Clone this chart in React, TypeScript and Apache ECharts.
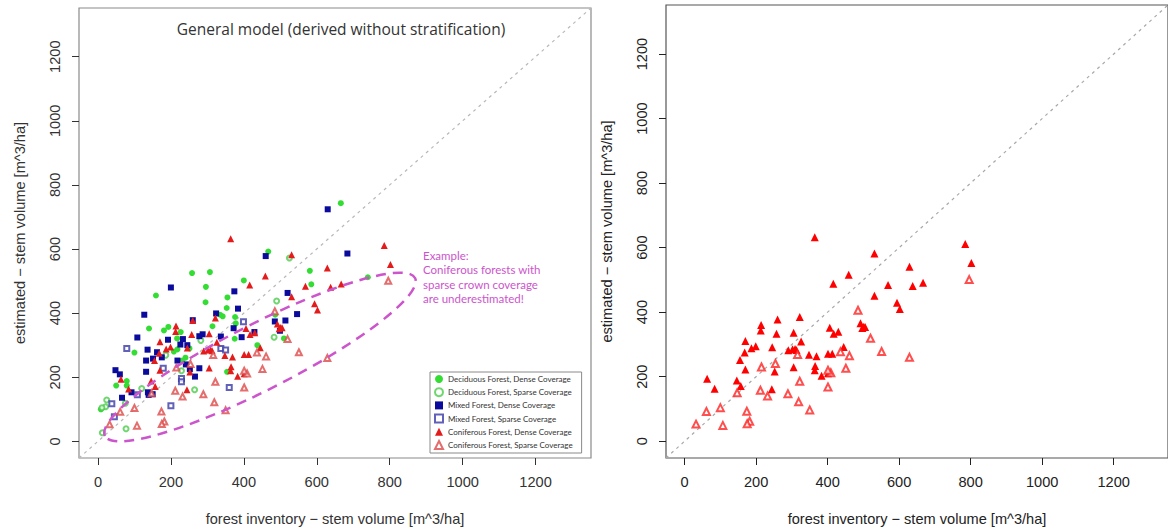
import React, { useEffect, useRef } from "react";
import * as echarts from "echarts";

// ---------- data ----------
const TICKS = [0, 200, 400, 600, 800, 1000, 1200];
const AXIS_MIN = -52;
const AXIS_MAX = 1352;
const DIAGONAL = [[AXIS_MIN, AXIS_MIN], [AXIS_MAX, AXIS_MAX]];

const X_TITLE = "forest inventory \u2212 stem volume [m^3/ha]";
const Y_TITLE = "estimated \u2212 stem volume [m^3/ha]";
const PLOT_TITLE = "General model (derived without stratification)";
const NOTE_LINES = ["Example:", "Coniferous forests with", "sparse crown coverage", "are underestimated!"];

const SERIES_NAMES = [
  "Deciduous Forest, Dense Coverage",
  "Deciduous Forest, Sparse Coverage",
  "Mixed Forest, Dense Coverage",
  "Mixed Forest, Sparse Coverage",
  "Coniferous Forest, Dense Coverage",
  "Coniferous Forest, Sparse Coverage",
];

const deciduousDense = [
  [666, 743], [467, 592], [581, 532], [585, 490], [740, 512], [400, 502], [258, 525], [307, 528],
  [159, 455], [296, 482], [295, 434], [355, 449], [353, 416], [376, 388], [335, 395], [342, 390],
  [486, 395], [510, 321], [437, 300], [354, 217], [375, 320], [314, 359], [140, 352], [181, 346],
  [193, 357], [227, 341], [217, 321], [100, 277], [208, 280], [218, 287], [251, 290], [231, 252],
  [240, 261], [50, 174], [79, 188], [79, 174], [8, 100], [378, 368],
];
const deciduousSparse = [
  [525, 572], [490, 438], [483, 325], [282, 315], [186, 269], [229, 220], [265, 161], [120, 165],
  [75, 119], [24, 129], [21, 108], [11, 105], [12, 27], [77, 39],
];
const mixedDense = [
  [630, 724], [684, 586], [460, 578], [200, 480], [374, 468], [520, 463], [127, 395], [260, 378],
  [324, 399], [546, 397], [514, 377], [485, 374], [372, 353], [108, 324], [192, 317], [278, 328],
  [394, 325], [429, 341], [136, 286], [162, 278], [151, 258], [132, 252], [132, 217], [226, 302],
  [245, 300], [241, 240], [252, 225], [278, 228], [266, 202], [48, 222], [60, 209], [66, 136],
  [92, 153], [137, 153], [139, 145], [150, 147], [384, 414], [499, 345], [233, 319], [287, 334],
  [337, 327], [218, 252], [175, 262],
];
const mixedSparse = [
  [79, 290], [337, 290], [350, 285], [399, 373], [360, 168], [179, 228], [108, 145], [200, 111],
  [38, 117], [45, 77], [229, 196], [229, 186],
];
const coniferousDense = [
  [364, 632], [531, 582], [459, 516], [416, 488], [629, 541], [569, 484], [638, 481], [667, 491],
  [531, 451], [594, 429], [602, 410], [785, 611], [802, 552], [214, 360], [213, 343], [260, 377],
  [322, 385], [257, 333], [305, 336], [326, 309], [406, 352], [417, 333], [430, 339], [492, 366],
  [497, 351], [501, 355], [505, 354], [170, 311], [168, 275], [187, 288], [199, 294], [245, 291],
  [155, 252], [170, 222], [146, 188], [157, 171], [63, 194], [84, 163], [252, 216], [244, 161],
  [305, 229], [290, 282], [302, 285], [309, 286], [313, 283], [348, 268], [369, 263], [401, 271],
  [413, 271], [445, 292], [365, 233], [364, 220], [383, 203], [401, 211],
];
const coniferousSparse = [
  [485, 406], [520, 319], [551, 278], [629, 260], [436, 277], [461, 265], [451, 226], [401, 168],
  [409, 212], [401, 220], [316, 269], [254, 241], [215, 230], [322, 186], [319, 122], [350, 97],
  [289, 147], [232, 140], [212, 158], [147, 150], [174, 93], [182, 62], [175, 54], [100, 104],
  [61, 92], [107, 49], [32, 53], [796, 501],
];

// ---------- styles ----------
const AXIS_FONT = "'Liberation Sans', Arial, Helvetica, sans-serif";
const NOTE_COLOR = "#cc55cc";

function xAxis(gridIndex: number, color: string) {
  return {
    type: "value",
    gridIndex,
    min: AXIS_MIN,
    max: AXIS_MAX,
    axisLine: { show: false, onZero: false },
    axisTick: { show: true, customValues: TICKS, length: 7, lineStyle: { color, width: 1 } },
    axisLabel: {
      customValues: TICKS,
      margin: 16,
      fontSize: 14.6,
      color,
      fontFamily: AXIS_FONT,
      formatter: (v: number) => String(v),
    },
    splitLine: { show: false },
    name: X_TITLE,
    nameLocation: "middle",
    nameGap: 53,
    nameTextStyle: { fontSize: 14.6, color, fontFamily: AXIS_FONT },
  };
}
function yAxis(gridIndex: number, color: string) {
  return {
    type: "value",
    gridIndex,
    min: AXIS_MIN,
    max: AXIS_MAX,
    axisLine: { show: false, onZero: false },
    axisTick: { show: true, customValues: TICKS, length: 7, lineStyle: { color, width: 1 } },
    axisLabel: {
      customValues: TICKS,
      margin: 17,
      rotate: 90,
      fontSize: 14.6,
      color,
      fontFamily: AXIS_FONT,
      formatter: (v: number) => String(v),
    },
    splitLine: { show: false },
    name: Y_TITLE,
    nameLocation: "middle",
    nameGap: 52,
    nameTextStyle: { fontSize: 14.6, color, fontFamily: AXIS_FONT },
  };
}

function scatter(name: string, data: number[][], idx: number, symbol: string, size: number, color: string, hollow: boolean) {
  return {
    type: "scatter",
    name,
    xAxisIndex: idx,
    yAxisIndex: idx,
    data,
    symbol,
    symbolSize: size,
    itemStyle: hollow ? { color, borderColor: color, borderWidth: 1 } : { color, opacity: 1 },
    z: 3,
  };
}

function diagonal(idx: number, color: string) {
  return {
    type: "line",
    xAxisIndex: idx,
    yAxisIndex: idx,
    data: DIAGONAL,
    showSymbol: false,
    symbol: "none",
    silent: true,
    lineStyle: { color, width: 1.2, type: [3, 4] },
    z: 1,
  };
}

export default function App() {
  const ref = useRef<HTMLDivElement>(null);
  useEffect(() => {
    const chart = echarts.init(ref.current!, null, { renderer: "svg" });
    const option = {
      animation: false,
      backgroundColor: "#ffffff",
      grid: [
        { left: 79, top: 8, width: 512, height: 451, show: true, borderColor: "#8a8a8a", borderWidth: 1.2, backgroundColor: "transparent" },
        { left: 666, top: 5, width: 509, height: 454, show: true, borderColor: "#555555", borderWidth: 1.2, backgroundColor: "transparent" },
      ],
      xAxis: [xAxis(0, "#333333"), xAxis(1, "#222222")],
      yAxis: [yAxis(0, "#333333"), yAxis(1, "#222222")],
      legend: {
        data: SERIES_NAMES,
        orient: "vertical",
        left: 430,
        top: 372,
        itemWidth: 8,
        itemHeight: 8,
        itemGap: 4.2,
        padding: [3, 9, 3, 4],
        borderColor: "#8a8a8a",
        borderWidth: 1,
        backgroundColor: "#ffffff",
        selectedMode: false,
        textStyle: { fontSize: 8, color: "#333", fontFamily: "Lato, 'Open Sans', sans-serif" },
      },
      series: [
        diagonal(0, "#b8b8b8"),
        scatter(SERIES_NAMES[0], deciduousDense, 0, "circle", 6, "#33dd33", false),
        scatter(SERIES_NAMES[1], deciduousSparse, 0, "emptyCircle", 5, "#4ccc4c", true),
        scatter(SERIES_NAMES[2], mixedDense, 0, "rect", 6, "#0a0a9c", false),
        scatter(SERIES_NAMES[3], mixedSparse, 0, "emptyRect", 5, "#3a3aa8", true),
        scatter(SERIES_NAMES[4], coniferousDense, 0, "triangle", 7, "#e41b1b", false),
        scatter(SERIES_NAMES[5], coniferousSparse, 0, "emptyTriangle", 6, "#dd4848", true),
        diagonal(1, "#a8a8a8"),
        scatter(SERIES_NAMES[4], coniferousDense, 1, "triangle", 8, "#ff0000", false),
        scatter(SERIES_NAMES[5], coniferousSparse, 1, "emptyTriangle", 7, "#ff2222", true),
      ],
      graphic: [
        {
          type: "text",
          x: 341,
          y: 29,
          style: {
            text: PLOT_TITLE,
            fill: "#333333",
            font: "15.5px 'Open Sans', sans-serif",
            textAlign: "center",
            textVerticalAlign: "middle",
          },
        },
        {
          type: "text",
          x: 423,
          y: 248,
          style: {
            text: NOTE_LINES.join("\n"),
            fill: NOTE_COLOR,
            font: "11.5px Lato, 'Open Sans', sans-serif",
            lineHeight: 14.5,
            textAlign: "left",
            textVerticalAlign: "top",
          },
        },
        {
          type: "ellipse",
          x: 260,
          y: 357,
          rotation: (27 * Math.PI) / 180,
          shape: { cx: 0, cy: 0, rx: 174, ry: 33 },
          style: { fill: "none", stroke: NOTE_COLOR, lineWidth: 2.5, lineDash: [10, 7] },
          silent: true,
          z: 10,
        },
      ],
    };
    chart.setOption(option as any);
    return () => chart.dispose();
  }, []);
  return (
    <div
      ref={ref}
      style={{ position: "fixed", left: 0, top: 0, width: 1168, height: 531, background: "#fff", overflow: "hidden" }}
    />
  );
}
